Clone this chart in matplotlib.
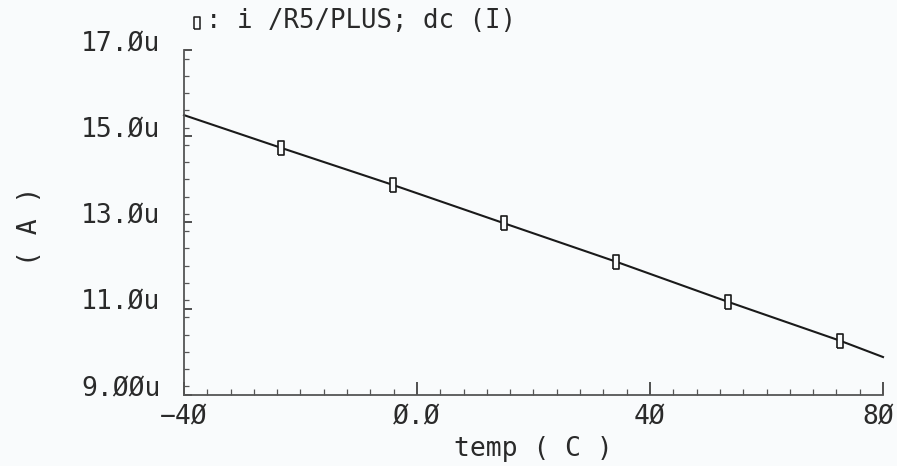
import numpy as np
import matplotlib
matplotlib.use('Agg')
import matplotlib.pyplot as plt
from matplotlib.ticker import MultipleLocator
from matplotlib.transforms import ScaledTranslation

# dc temperature sweep of the current into R5/PLUS (values in uA)
temp_c = [-40, -23.3, -4.1, 15.0, 34.2, 53.4, 72.6, 80]
current_ua = [15.49, 14.73, 13.87, 12.98, 12.09, 11.16, 10.26, 9.88]
marked_points = [1, 2, 3, 4, 5, 6]

x_ticks = [-40, 0, 40, 80]
x_tick_labels = ['\u22124\u00d8', '\u00d8.\u00d8', '4\u00d8', '8\u00d8']
y_ticks = [9, 11, 13, 15, 17]
y_tick_labels = ['9.\u00d8\u00d8u', '11.\u00d8u', '13.\u00d8u', '15.\u00d8u', '17.\u00d8u']

trace_title = ': i /R5/PLUS; dc (I)'
x_label = 'temp ( C )'
y_label = '( A )'

FONT = 'DejaVu Sans Mono'
TEXT_COLOR = '#2a2a2a'
AXIS_COLOR = '#555555'
BG = '#f9fbfc'

# tall thin box used as the trace marker
box = [(-1, -2), (1, -2), (1, 2), (-1, 2), (-1, -2)]

fig = plt.figure(figsize=(8.97, 4.66), dpi=100, facecolor=BG)
ax = fig.add_axes([0.2051, 0.1524, 0.7793, 0.7403])
ax.set_facecolor(BG)

ax.plot(temp_c, current_ua, color='#1a1a1a', linewidth=1.5,
        marker=box, markersize=10, markevery=marked_points,
        markerfacecolor=BG, markeredgecolor='#1a1a1a', markeredgewidth=1.2,
        clip_on=False)

ax.set_xlim(-40, 80)
ax.set_ylim(9, 17)

for side in ('top', 'right'):
    ax.spines[side].set_visible(False)
for side in ('left', 'bottom'):
    ax.spines[side].set_color(AXIS_COLOR)
    ax.spines[side].set_linewidth(1.3)

ax.set_xticks(x_ticks)
ax.set_xticklabels(x_tick_labels)
ax.set_yticks(y_ticks)
ax.set_yticklabels(y_tick_labels)
ax.xaxis.set_minor_locator(MultipleLocator(4))
ax.yaxis.set_minor_locator(MultipleLocator(0.4))

ax.tick_params(axis='x', which='major', direction='in', length=9.5, width=1.1,
               color='#222222', pad=7, labelsize=19)
ax.tick_params(axis='x', which='minor', direction='in', length=4, width=0.9,
               color=AXIS_COLOR)
ax.tick_params(axis='y', which='major', direction='in', length=6, width=1.1,
               color='#222222', pad=17, labelsize=19)
ax.tick_params(axis='y', which='minor', direction='in', length=3.6, width=0.9,
               color=AXIS_COLOR)

for lbl in ax.get_xticklabels() + ax.get_yticklabels():
    lbl.set_family(FONT)
    lbl.set_color(TEXT_COLOR)

# y labels sit a little above their ticks
shift_up = ScaledTranslation(0, 0.09, fig.dpi_scale_trans)
for lbl in ax.get_yticklabels():
    lbl.set_transform(lbl.get_transform() + shift_up)

# keep the last x label inside the figure
last = ax.get_xticklabels()[-1]
last.set_transform(last.get_transform() + ScaledTranslation(-0.05, 0, fig.dpi_scale_trans))

ax.set_xlabel(x_label, family=FONT, fontsize=19, color=TEXT_COLOR)
ax.xaxis.set_label_coords(0.5, -0.157)
ax.xaxis.label.set_va('center')
ax.set_ylabel(y_label, family=FONT, fontsize=19, color=TEXT_COLOR)
ax.yaxis.set_label_coords(-0.22, 0.49)
ax.yaxis.label.set_va('center')

# legend-style header: trace marker followed by the signal name
fig.add_artist(plt.Line2D([197 / 897], [1 - 23 / 466], marker=box, markersize=8,
                          markerfacecolor=BG, markeredgecolor='#1a1a1a',
                          markeredgewidth=1.1, linestyle='none'))
fig.text(206 / 897, 1 - 28.5 / 466, trace_title, family=FONT, fontsize=18.5,
         color=TEXT_COLOR, va='baseline', ha='left')

fig.savefig('out.png', dpi=100, facecolor=BG)
